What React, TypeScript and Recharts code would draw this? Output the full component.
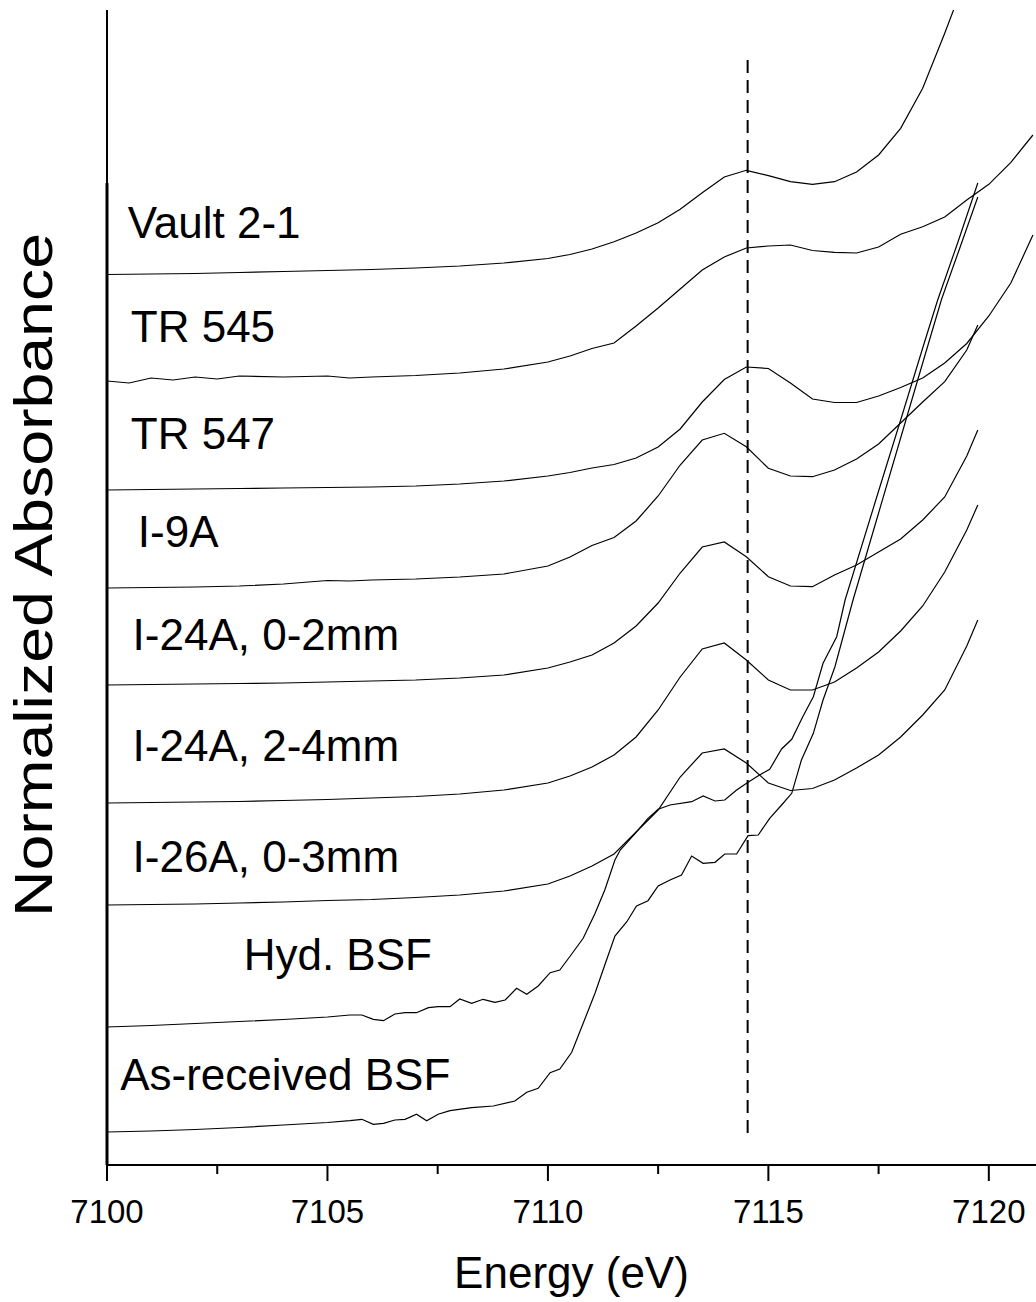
import { LineChart, Line, XAxis, YAxis, ReferenceLine, ReferenceDot } from "recharts";

type Pt = [number, number];

// energy (eV), normalized absorbance (offset stacked)
const vault21: Pt[] = [
  [7100, 8.905], [7101, 8.91], [7102, 8.915], [7103, 8.925], [7104, 8.935], [7105, 8.945], [7106, 8.955],
  [7107, 8.97], [7108, 8.99], [7109, 9.02], [7110, 9.065], [7110.5, 9.105], [7111, 9.16], [7111.5, 9.233],
  [7112, 9.32], [7112.5, 9.423], [7113, 9.557], [7113.5, 9.723], [7114, 9.88], [7114.5, 9.947], [7115, 9.893],
  [7115.5, 9.833], [7116, 9.807], [7116.5, 9.833], [7117, 9.93], [7117.5, 10.1], [7118, 10.367], [7118.5, 10.767],
  [7119, 11.317], [7119.5, 11.9],
];

const tr545: Pt[] = [
  [7100, 7.84], [7100.5, 7.82], [7101, 7.87], [7101.5, 7.85], [7102, 7.88], [7102.5, 7.86], [7103, 7.89],
  [7104, 7.88], [7105, 7.89], [7105.5, 7.87], [7106, 7.88], [7107, 7.895], [7108, 7.92], [7109, 7.96],
  [7110, 8.03], [7110.5, 8.09], [7111, 8.165], [7111.5, 8.22], [7112, 8.39], [7112.5, 8.57], [7113, 8.76],
  [7113.5, 8.95], [7114, 9.08], [7114.5, 9.17], [7115, 9.19], [7115.5, 9.2], [7116, 9.145], [7116.5, 9.127],
  [7117, 9.12], [7117.5, 9.18], [7118, 9.307], [7118.5, 9.383], [7119, 9.48], [7119.5, 9.65], [7120, 9.807],
  [7120.5, 10.027], [7121, 10.3],
];

const tr547: Pt[] = [
  [7100, 6.75], [7101, 6.755], [7102, 6.76], [7103, 6.765], [7104, 6.77], [7105, 6.775], [7106, 6.78],
  [7107, 6.79], [7108, 6.81], [7109, 6.84], [7110, 6.89], [7110.5, 6.925], [7111, 6.97], [7111.5, 7.005],
  [7112, 7.07], [7112.5, 7.18], [7113, 7.36], [7113.5, 7.63], [7114, 7.855], [7114.5, 7.98], [7115, 7.965],
  [7115.5, 7.82], [7116, 7.66], [7116.5, 7.625], [7117, 7.625], [7117.5, 7.69], [7118, 7.775], [7118.5, 7.87],
  [7119, 8.02], [7119.5, 8.215], [7120, 8.49], [7120.5, 8.82], [7121, 9.3],
];

const i9a: Pt[] = [
  [7100, 5.77], [7101, 5.775], [7102, 5.78], [7103, 5.79], [7104, 5.81], [7105, 5.845], [7105.5, 5.84],
  [7106, 5.85], [7107, 5.86], [7108, 5.88], [7109, 5.91], [7110, 5.99], [7110.5, 6.08], [7111, 6.195],
  [7111.5, 6.275], [7112, 6.44], [7112.5, 6.69], [7113, 7.0], [7113.5, 7.25], [7114, 7.317], [7114.5, 7.183],
  [7115, 6.967], [7115.5, 6.89], [7116, 6.883], [7116.5, 6.95], [7117, 7.06], [7117.5, 7.21], [7118, 7.42],
  [7118.5, 7.63], [7119, 7.833], [7119.5, 8.15], [7119.75, 8.4],
];

const i24a02: Pt[] = [
  [7100, 4.8], [7101, 4.805], [7102, 4.81], [7103, 4.815], [7104, 4.82], [7105, 4.83], [7106, 4.84],
  [7107, 4.85], [7108, 4.87], [7109, 4.9], [7110, 4.97], [7110.5, 5.03], [7111, 5.1], [7111.5, 5.22],
  [7112, 5.39], [7112.5, 5.62], [7113, 5.92], [7113.5, 6.18], [7114, 6.23], [7114.5, 6.083], [7115, 5.883],
  [7115.5, 5.79], [7116, 5.783], [7116.5, 5.9], [7117, 6.0], [7117.5, 6.13], [7118, 6.26], [7118.5, 6.45],
  [7119, 6.68], [7119.5, 7.09], [7119.75, 7.35],
];

const i24a24: Pt[] = [
  [7100, 3.62], [7101, 3.625], [7102, 3.63], [7103, 3.635], [7104, 3.645], [7105, 3.655], [7106, 3.67],
  [7107, 3.685], [7108, 3.71], [7109, 3.75], [7110, 3.82], [7110.5, 3.89], [7111, 3.98], [7111.5, 4.1],
  [7112, 4.28], [7112.5, 4.55], [7113, 4.88], [7113.5, 5.16], [7114, 5.22], [7114.5, 5.05], [7115, 4.85],
  [7115.5, 4.75], [7116, 4.75], [7116.5, 4.83], [7117, 4.97], [7117.5, 5.13], [7118, 5.34], [7118.5, 5.59],
  [7119, 5.93], [7119.5, 6.35], [7119.75, 6.6],
];

const i26a03: Pt[] = [
  [7100, 2.6], [7101, 2.605], [7102, 2.61], [7103, 2.62], [7104, 2.63], [7105, 2.645], [7106, 2.655],
  [7107, 2.675], [7108, 2.7], [7109, 2.74], [7110, 2.81], [7110.5, 2.89], [7111, 2.99], [7111.5, 3.11],
  [7112, 3.33], [7112.5, 3.55], [7113, 3.88], [7113.5, 4.12], [7114, 4.16], [7114.5, 4.02], [7115, 3.82],
  [7115.5, 3.745], [7116, 3.765], [7116.5, 3.85], [7117, 3.97], [7117.5, 4.1], [7118, 4.28], [7118.5, 4.5],
  [7119, 4.75], [7119.5, 5.19], [7119.75, 5.45],
];

const hydBsf: Pt[] = [
  [7100, 1.38], [7101, 1.395], [7102, 1.415], [7103, 1.435], [7104, 1.455], [7105, 1.48], [7105.51, 1.5],
  [7105.78, 1.5], [7106.04, 1.457], [7106.27, 1.443], [7106.53, 1.51], [7106.76, 1.523], [7107.02, 1.523],
  [7107.29, 1.573], [7107.51, 1.583], [7107.78, 1.583], [7108.0, 1.66], [7108.27, 1.617], [7108.53, 1.657],
  [7108.8, 1.627], [7109.03, 1.65], [7109.29, 1.767], [7109.52, 1.707], [7109.78, 1.79], [7110.05, 1.923],
  [7110.27, 1.95], [7110.54, 2.11], [7110.8, 2.267], [7111.07, 2.517], [7111.29, 2.75], [7111.52, 3.05],
  [7111.64, 3.15], [7111.98, 3.317], [7112.27, 3.467], [7112.5, 3.557], [7112.77, 3.6], [7113.26, 3.633],
  [7113.52, 3.69], [7113.79, 3.64], [7114.01, 3.65], [7114.28, 3.75], [7114.54, 3.827], [7114.8, 3.9],
  [7115.03, 3.957], [7115.3, 4.16], [7115.53, 4.257], [7115.78, 4.483], [7116.02, 4.683], [7116.24, 5.017],
  [7116.55, 5.283], [7116.74, 5.65], [7117.5, 6.74], [7118, 7.45], [7118.5, 8.17], [7118.84, 8.65],
  [7119.3, 9.23], [7119.75, 9.82],
];

const asRecBsf: Pt[] = [
  [7100, 0.33], [7101, 0.34], [7102, 0.355], [7103, 0.375], [7104, 0.4], [7105, 0.425], [7105.51, 0.443],
  [7105.78, 0.457], [7106.04, 0.407], [7106.27, 0.417], [7106.53, 0.45], [7106.76, 0.457], [7107.02, 0.507],
  [7107.25, 0.443], [7107.51, 0.507], [7107.78, 0.543], [7108.27, 0.573], [7108.76, 0.59], [7109.25, 0.64],
  [7109.52, 0.727], [7109.78, 0.767], [7110.05, 0.923], [7110.27, 0.96], [7110.54, 1.127], [7110.8, 1.417],
  [7111.07, 1.72], [7111.29, 2.0], [7111.52, 2.29], [7111.79, 2.433], [7112.01, 2.59], [7112.27, 2.643],
  [7112.5, 2.79], [7112.77, 2.85], [7113.03, 2.9], [7113.26, 3.09], [7113.52, 3.017], [7113.79, 3.027],
  [7114.01, 3.11], [7114.28, 3.11], [7114.54, 3.293], [7114.77, 3.3], [7115.03, 3.467], [7115.3, 3.6],
  [7115.53, 3.717], [7115.75, 4.05], [7116.02, 4.317], [7116.24, 4.65], [7116.51, 4.983], [7116.92, 5.65],
  [7117.5, 6.52], [7118, 7.27], [7118.5, 8.02], [7118.93, 8.66], [7119.35, 9.18], [7119.75, 9.68],
];

const SERIES: Array<{ name: string; pts: Pt[] }> = [
  { name: "Vault 2-1", pts: vault21 },
  { name: "TR 545", pts: tr545 },
  { name: "TR 547", pts: tr547 },
  { name: "I-9A", pts: i9a },
  { name: "I-24A, 0-2mm", pts: i24a02 },
  { name: "I-24A, 2-4mm", pts: i24a24 },
  { name: "I-26A, 0-3mm", pts: i26a03 },
  { name: "Hyd. BSF", pts: hydBsf },
  { name: "As-received BSF", pts: asRecBsf },
];

// curve labels: left edge of text (eV), baseline (absorbance units)
const LABELS: Array<{ text: string; e: number; a: number }> = [
  { text: "Vault 2-1", e: 7100.47, a: 9.27 },
  { text: "TR 545", e: 7100.54, a: 8.23 },
  { text: "TR 547", e: 7100.54, a: 7.16 },
  { text: "I-9A", e: 7100.7, a: 6.18 },
  { text: "I-24A, 0-2mm", e: 7100.58, a: 5.15 },
  { text: "I-24A, 2-4mm", e: 7100.58, a: 4.04 },
  { text: "I-26A, 0-3mm", e: 7100.58, a: 2.93 },
  { text: "Hyd. BSF", e: 7103.1, a: 1.95 },
  { text: "As-received BSF", e: 7100.3, a: 0.75 },
];

const X_TICKS = [7100, 7102.5, 7105, 7107.5, 7110, 7112.5, 7115, 7117.5, 7120];
const Y_TICKS = [
  0.35, 0.72, 1.1, 1.48, 1.87, 2.25, 2.62, 3.0, 3.38, 3.75, 4.12, 4.5, 4.88, 5.27, 5.65, 6.02, 6.4, 6.77,
  7.15, 7.55, 7.9, 8.28, 8.67, 9.05, 9.43, 9.82,
];
const EDGE_MARK = 7114.53;

const FONT = '"Liberation Sans", Arial, Helvetica, sans-serif';

function XTick({ x, y, payload }: any) {
  const v = payload.value as number;
  const major = v % 5 === 0;
  return (
    <g>
      <line x1={x} y1={y} x2={x} y2={y + (major ? 16 : 9)} stroke="#000" strokeWidth={2} />
      {major && (
        <text x={x} y={y + 58} textAnchor="middle" fontSize={33} fontFamily={FONT} fill="#000">
          {v}
        </text>
      )}
    </g>
  );
}

export default function App() {
  return (
    <div style={{ position: "absolute", left: 0, top: 0, background: "#fff" }}>
      <LineChart width={1036} height={1302} margin={{ top: 10, right: 0, bottom: 0, left: 0 }}>
        <XAxis
          type="number"
          dataKey="e"
          domain={[7100, 7121.07]}
          ticks={X_TICKS}
          interval={0}
          allowDataOverflow
          height={137}
          tickSize={0}
          tickMargin={0}
          tickLine={false}
          tick={<XTick />}
          axisLine={{ stroke: "#000", strokeWidth: 2 }}
          label={{ value: "Energy (eV)", position: "insideBottom", offset: 14, fontSize: 44, fill: "#000", fontFamily: FONT }}
        />
        <YAxis
          type="number"
          domain={[0, 11.55]}
          ticks={Y_TICKS}
          interval={0}
          allowDataOverflow
          width={107}
          tick={false}
          tickSize={4}
          tickLine={{ stroke: "#000", strokeWidth: 1.5 }}
          axisLine={{ stroke: "#000", strokeWidth: 2 }}
          label={{
            content: () => (
              <text
                x={52}
                y={575}
                transform="rotate(-90 52 575)"
                textAnchor="middle"
                fontSize={54}
                textLength={684}
                lengthAdjust="spacingAndGlyphs"
                fontFamily={FONT}
                fill="#000"
              >
                Normalized Absorbance
              </text>
            ),
          }}
        />
        <ReferenceLine segment={[{ x: 7100, y: 0 }, { x: 7100, y: 9.82 }]} stroke="#000" strokeWidth={3} />
        <ReferenceLine
          segment={[{ x: EDGE_MARK, y: 0.32 }, { x: EDGE_MARK, y: 11.12 }]}
          stroke="#000"
          strokeWidth={2}
          strokeDasharray="13 7"
        />
        {SERIES.map((s) => (
          <Line
            key={s.name}
            name={s.name}
            data={s.pts.map(([e, a]) => ({ e, a }))}
            dataKey="a"
            type="linear"
            stroke="#000"
            strokeWidth={1.2}
            dot={false}
            activeDot={false}
            isAnimationActive={false}
          />
        ))}
        {LABELS.map((l) => (
          <ReferenceDot
            key={l.text}
            x={l.e}
            y={l.a}
            r={0}
            shape={(p: any) => (
              <text x={p.cx} y={p.cy} fontSize={44} fontFamily={FONT} fill="#000">
                {l.text}
              </text>
            )}
          />
        ))}
      </LineChart>
    </div>
  );
}
